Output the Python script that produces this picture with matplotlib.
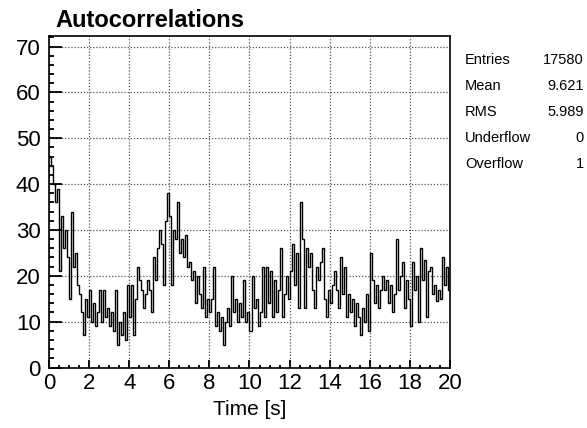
import numpy as np
import matplotlib
matplotlib.use("Agg")
import matplotlib.pyplot as plt
from matplotlib.ticker import MultipleLocator

# ---- data (0.1 s bins) ----
bin_edges_start = 0.0
bin_width = 0.1
counts = [
    46, 44, 40, 36, 39, 21, 33, 26, 30, 24,
    15, 34, 22, 25, 18, 16, 12, 7, 15, 11,
    17, 10, 14, 9, 12, 17, 10, 17, 11, 13,
    9, 12, 8, 17, 5, 10, 7, 12, 6, 18,
    11, 18, 7, 15, 22, 19, 17, 13, 16, 19,
    17, 12, 24, 19, 26, 30, 27, 18, 32, 38,
    33, 18, 30, 28, 36, 25, 28, 24, 29, 22,
    23, 19, 21, 14, 20, 16, 13, 22, 11, 15,
    12, 15, 22, 9, 12, 8, 11, 5, 10, 13,
    9, 20, 12, 15, 10, 14, 11, 19, 10, 12,
    8, 20, 13, 15, 9, 12, 22, 11, 22, 14,
    21, 11, 19, 12, 17, 26, 11, 16, 20, 15,
    21, 27, 18, 25, 13, 36, 28, 13, 26, 22,
    25, 17, 13, 22, 19, 23, 26, 15, 11, 17,
    14, 18, 21, 17, 13, 24, 16, 22, 11, 16,
    12, 15, 9, 14, 11, 7, 13, 10, 16, 8,
    25, 19, 14, 18, 13, 17, 20, 17, 19, 14,
    18, 12, 16, 28, 17, 20, 23, 13, 19, 15,
    9, 23, 17, 20, 10, 26, 19, 23.5, 11, 21,
    22, 16, 18, 14.5, 17, 15, 24, 18, 22, 17,
]
stat_names = ["Entries", "Mean", "RMS", "Underflow", "Overflow"]
stat_values = ["17580", "9.621", "5.989", "0", "1"]
title = "Autocorrelations"
xlabel = "Time [s]"
x_ticks = list(range(0, 21, 2))
y_ticks = list(range(0, 71, 10))

# ---- figure ----
plt.rcParams['font.family'] = ['Liberation Sans', 'DejaVu Sans']
W, H = 587, 428
fig = plt.figure(figsize=(W / 100, H / 100), dpi=100)
ax = fig.add_axes([49 / W, (H - 367.5) / H, 401 / W, 331.5 / H])

edges = bin_edges_start + bin_width * np.arange(len(counts) + 1)
ax.stairs(counts, edges, baseline=None, color='black', lw=1.0, zorder=3)

ax.set_xlim(0, 20)
ax.set_ylim(0, 72.3)
ax.set_xticks(x_ticks)
ax.set_yticks(y_ticks)
ax.xaxis.set_minor_locator(MultipleLocator(0.5))
ax.yaxis.set_minor_locator(MultipleLocator(2))
ax.tick_params(which='both', direction='in', top=False, right=False,
               width=1.3, colors='black')
ax.tick_params(which='major', labelsize=16)
ax.tick_params(axis='y', which='major', length=9.4, pad=6)
ax.tick_params(axis='y', which='minor', length=3.6)
ax.tick_params(axis='x', which='major', length=5.8, pad=4)
ax.tick_params(axis='x', which='minor', length=2.5)
ax.grid(True, which='major', linestyle=(0, (1, 1.5)), color='#555555', lw=0.9)
for s in ax.spines.values():
    s.set_linewidth(1.2)
    s.set_color('black')

ax.set_xlabel(xlabel, fontsize=15, labelpad=4)

fig.text(55 / W, 1 - 27 / H, title, fontsize=17, fontweight='bold',
         ha='left', va='baseline')

ys = [60, 86, 112, 138, 164]
for name, val, y in zip(stat_names, stat_values, ys):
    fig.text(465 / W, 1 - y / H, name, fontsize=10.5, ha='left', va='center')
    fig.text(584 / W, 1 - y / H, val, fontsize=10.5, ha='right', va='center')

fig.savefig("out.png", dpi=100)
